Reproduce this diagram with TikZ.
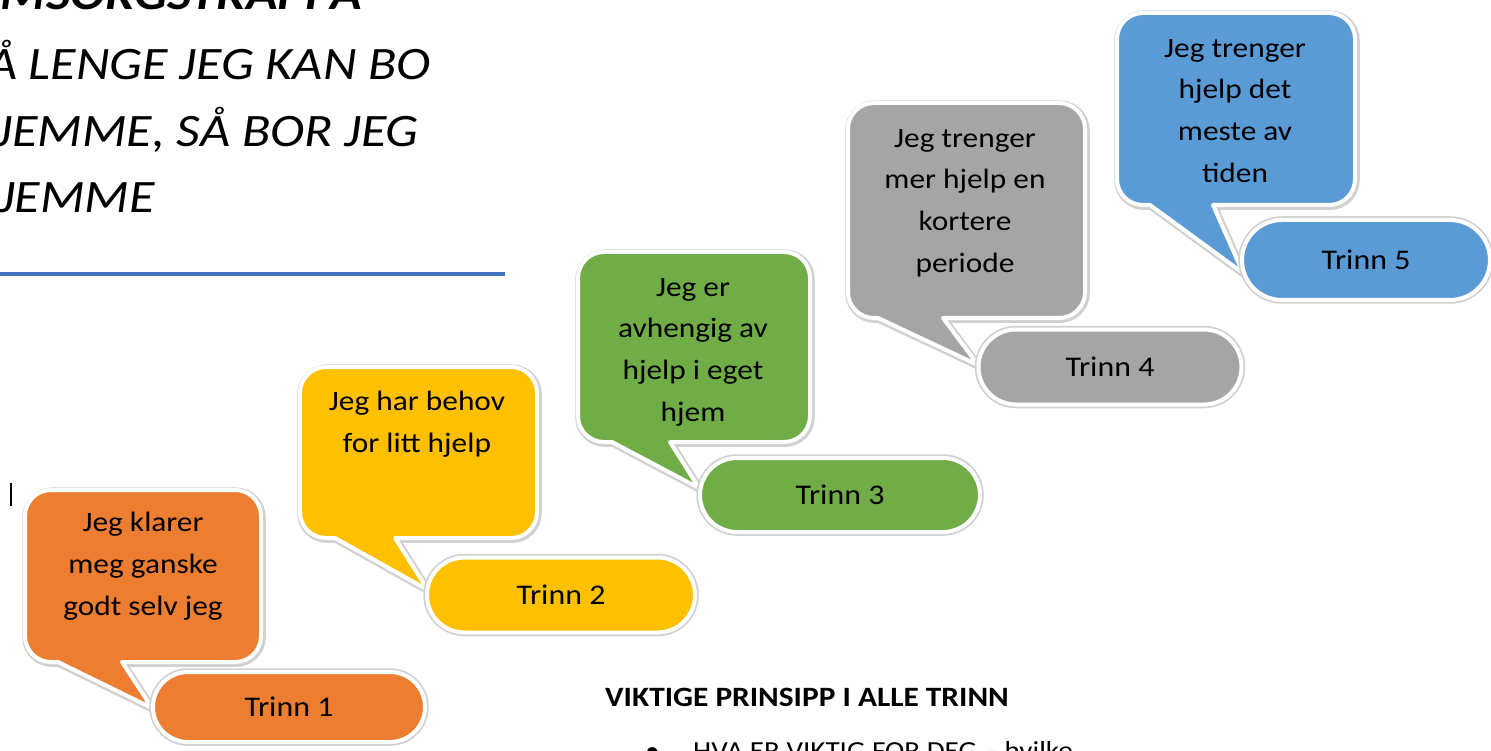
\documentclass[tikz,border=0pt]{standalone}
\usepackage{fontspec}
\setmainfont{Carlito}[FakeStretch=1.12]
\usetikzlibrary{shapes.misc}
\definecolor{corange}{HTML}{ED7D31}
\definecolor{cyellow}{HTML}{FFC000}
\definecolor{cgreen}{HTML}{70AD47}
\definecolor{cgray}{HTML}{A5A5A5}
\definecolor{cblue}{HTML}{5B9BD5}
\definecolor{crule}{HTML}{4472C4}
% #1 x1, #2 y1, #3 x2, #4 y2 (image px, y down), #5 tail left, #6 tail right, #7 tip x, #8 tip y
\newcommand\bubbleoutline[8]{(#1+26,-#2) -- (#3-26,-#2) arc[start angle=90,end angle=0,radius=26]
  -- (#3,-#4+26) arc[start angle=0,end angle=-90,radius=26] -- (#6,-#4) -- (#7,-#8) -- (#5,-#4)
  -- (#1+26,-#4) arc[start angle=270,end angle=180,radius=26] -- (#1,-#2-26)
  arc[start angle=180,end angle=90,radius=26] -- cycle}
\newcommand\bubblebody[9]{%
  \draw[bubshadow] \bubbleoutline{#1}{#2}{#3}{#4}{#5}{#6}{#7}{#8};
  \draw[bubfill, fill=#9] \bubbleoutline{#1}{#2}{#3}{#4}{#5}{#6}{#7}{#8};
}
\tikzset{
  bubshadow/.style={draw=black!18, line width=7.5pt, line join=round, xshift=1pt, yshift=-1.2pt},
  bubfill/.style={draw=white, line width=4pt, line join=round},
  bubtext/.style={anchor=north, align=center, inner sep=0pt, text=black,
    font=\fontsize{28}{41.7}\selectfont},
  pill/.style={rounded rectangle, draw=white, line width=4pt, inner sep=0pt,
    font=\fontsize{28.5}{34}\selectfont, text=black,
    preaction={draw=black!18, line width=7.5pt}},
  titletext/.style={anchor=base east, inner sep=0pt, text=black,
    font=\fontsize{46.5}{68}\selectfont\itshape},
  plaintext/.style={anchor=base west, inner sep=0pt, text=black,
    font=\fontsize{26}{31}\selectfont},
}
\begin{document}
\begin{tikzpicture}[x=1pt,y=1pt]
\useasboundingbox (0,0) rectangle (1491,-751);
\clip (0,0) rectangle (1491,-751);
\fill[white] (0,0) rectangle (1491,-751);

% title
\node[titletext] (title0) at (362,-10) {\bfseries OMSORGSTRAPPA};
\node[titletext] (title1) at (431,-80) {SÅ LENGE JEG KAN BO};
\node[titletext] (title2) at (419,-147) {HJEMME, SÅ BOR JEG};
\node[titletext] (title3) at (155,-213) {HJEMME};
\coordinate (ruleL) at (0,-274);
\coordinate (ruleR) at (505,-274);
\draw[crule, line width=4.5pt] (ruleL) -- (ruleR);

% text cursor
\coordinate (curtop) at (11,-483);
\coordinate (curbot) at (11,-506);
\draw[black, line width=1.3pt] (curtop) -- (curbot);

% Trinn 1
\bubblebody{25}{490}{261}{662}{58}{122}{152}{708}{corange}
\node[bubtext] (b1) at (143,-512) {Jeg klarer\\meg ganske\\godt selv jeg};
\node[pill, fill=corange, minimum width=272pt, minimum height=70pt] (t1) at (289,-707) {Trinn 1};

% Trinn 2
\bubblebody{300}{367}{537}{538}{335}{395}{428}{590}{cyellow}
\node[bubtext] (b2) at (417,-391) {Jeg har behov\\for litt hjelp};
\node[pill, fill=cyellow, minimum width=268pt, minimum height=75pt] (t2) at (561,-595) {Trinn 2};

% Trinn 3
\bubblebody{578}{252}{810}{442}{612}{670}{699}{488}{cgreen}
\node[bubtext] (b3) at (693,-278) {Jeg er\\avhengig av\\hjelp i eget\\hjem};
\node[pill, fill=cgreen, minimum width=280pt, minimum height=74pt] (t3) at (840,-495) {Trinn 3};

% Trinn 4
\bubblebody{848}{103}{1085}{318}{878}{943}{978}{365}{cgray}
\node[bubtext] (b4) at (965,-129) {Jeg trenger\\mer hjelp en\\kortere\\periode};
\node[pill, fill=cgray, minimum width=263pt, minimum height=75pt] (t4) at (1110,-367) {Trinn 4};

% Trinn 5
\bubblebody{1117}{13}{1355}{205}{1150}{1213}{1243}{273}{cblue}
\node[bubtext] (b5) at (1235,-39) {Jeg trenger\\hjelp det\\meste av\\tiden};
\node[pill, fill=cblue, minimum width=248pt, minimum height=80pt] (t5) at (1366,-260) {Trinn 5};

% bottom text
\node[plaintext, font=\fontsize{28}{33}\selectfont\bfseries] (heading) at (605,-706) {VIKTIGE PRINSIPP I ALLE TRINN};
\node[plaintext] (bullet) at (645,-759) {•};
\node[plaintext] (hva) at (693,-759) {HVA ER VIKTIG FOR DEG – hvilke};
\end{tikzpicture}
\end{document}
